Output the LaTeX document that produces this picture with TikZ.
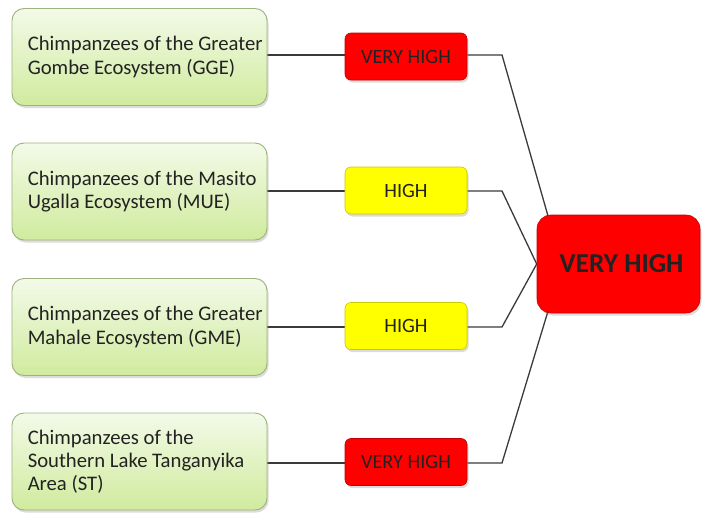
\documentclass[tikz,border=0pt]{standalone}
\usepackage{fontspec}
\setmainfont{Carlito}
\usetikzlibrary{shadows,backgrounds}

\definecolor{boxtop}{HTML}{F3FAE8}
\definecolor{boxbottom}{HTML}{D0EB9E}
\definecolor{boxline}{HTML}{9DB27C}
\definecolor{redfill}{HTML}{FF0000}
\definecolor{redline}{HTML}{C40000}
\definecolor{yellowfill}{HTML}{FFFF00}
\definecolor{yellowline}{HTML}{C9C900}
\definecolor{wire}{HTML}{3A3A3A}
\definecolor{ink}{HTML}{222222}

\tikzset{
  softshadow/.style={drop shadow={opacity=0.28, shadow xshift=1.5pt, shadow yshift=-2.5pt}},
  areabox/.style={rounded corners=12pt, draw=boxline, line width=0.9pt,
    top color=boxtop, bottom color=boxbottom, softshadow,
    minimum width=255pt, minimum height=97pt, inner sep=0pt},
  areatext/.style={anchor=west, align=left, inner sep=0pt, text=ink,
    font=\fontsize{20.7}{23.2}\selectfont},
  ratebox/.style={rounded corners=6pt, line width=0.6pt, softshadow,
    minimum width=122pt, minimum height=47pt, inner sep=0pt, text=ink,
    font=\fontsize{20.3}{24}\selectfont},
  veryhigh/.style={ratebox, fill=redfill, draw=redline},
  high/.style={ratebox, fill=yellowfill, draw=yellowline},
  overall/.style={rounded corners=14pt, fill=redfill, draw=redline, line width=0.6pt,
    softshadow, minimum width=163pt, minimum height=98pt, inner sep=0pt, text=ink,
    font=\fontsize{27.3}{31}\selectfont\bfseries},
  wireline/.style={draw=wire, line width=1.3pt}
}

\begin{document}
\begin{tikzpicture}[x=1pt, y=-1pt]
\useasboundingbox (0,0) rectangle (702,514);

% ecosystem boxes and their texts
\node[areabox] (l1) at (139.5,57) {};
\node[areabox] (l2) at (139.5,191.5) {};
\node[areabox] (l3) at (139.5,327) {};
\node[areabox] (l4) at (139.5,461.5) {};
\node[areatext] (l1t) at ([xshift=16pt]l1.west) {Chimpanzees of the Greater\\Gombe Ecosystem (GGE)};
\node[areatext] (l2t) at ([xshift=16pt]l2.west) {Chimpanzees of the Masito\\Ugalla Ecosystem (MUE)};
\node[areatext] (l3t) at ([xshift=16pt]l3.west) {Chimpanzees of the Greater\\Mahale Ecosystem (GME)};
\node[areatext] (l4t) at ([xshift=16pt]l4.west) {Chimpanzees of the\\Southern Lake Tanganyika\\Area (ST)};

% individual ratings
\node[veryhigh] (m1) at (406,56.5) {VERY HIGH};
\node[high]     (m2) at (406,190.5) {HIGH};
\node[high]     (m3) at (406,326) {HIGH};
\node[veryhigh] (m4) at (406,462) {VERY HIGH};

% overall rating
\node[overall] (big) at (618.5,264) {\hspace*{6pt}VERY HIGH};

% bends and end points of the connectors
\coordinate (k1) at (502,55);
\coordinate (k2) at (502,191);
\coordinate (k3) at (502,327);
\coordinate (k4) at (502,463);
\coordinate (t1) at (562,265);
\coordinate (t4) at (562,265);

\begin{scope}[on background layer]
  \draw[wireline] (l1.east |- k1) -- (m1.west |- k1);
  \draw[wireline] (l2.east |- k2) -- (m2.west |- k2);
  \draw[wireline] (l3.east |- k3) -- (m3.west |- k3);
  \draw[wireline] (l4.east |- k4) -- (m4.west |- k4);
  \draw[wireline] (m1.east |- k1) -- (k1) -- (t1);
  \draw[wireline] (m2.east |- k2) -- (k2) -- (big.west);
  \draw[wireline] (m3.east |- k3) -- (k3) -- (big.west);
  \draw[wireline] (m4.east |- k4) -- (k4) -- (t4);
\end{scope}
\end{tikzpicture}
\end{document}
